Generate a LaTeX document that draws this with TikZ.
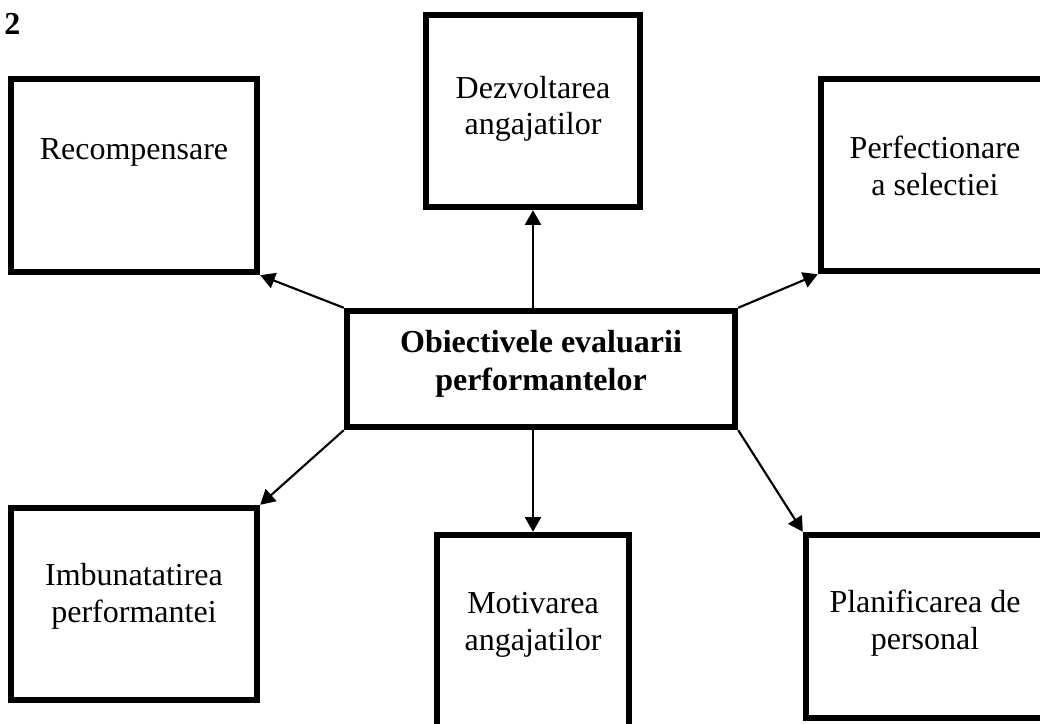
\documentclass[tikz,border=0pt]{standalone}
\usepackage{fontspec}
\setmainfont{Liberation Serif}
\usetikzlibrary{positioning,calc,fit,arrows.meta}
\tikzstyle{box}=[draw, line width=4.8pt, inner sep=0pt]
\tikzstyle{txt}=[align=center, inner sep=0pt, font=\fontsize{24}{27.5}\selectfont]
\tikzstyle{arr}=[line width=1.6pt, -{Triangle[length=11pt,width=12pt]}]

\begin{document}
\begin{tikzpicture}[x=0.75pt, y=-0.75pt]
	\useasboundingbox (0,0) rectangle (1040,724);
	\node[txt, font=\bfseries\fontsize{24}{27.5}\selectfont, anchor=base west] (num) at (4,35) {2};
	\node[box, fit={(347,311) (735,427)}] (obj) {};
	\node[box, fit={(11,79) (257,272)}] (rec) {};
	\node[box, fit={(426,15) (640,207)}] (dez) {};
	\node[box, fit={(821,79) (1049,271)}] (perf) {};
	\node[box, fit={(11,508) (257,700)}] (imb) {};
	\node[box, fit={(437,535) (629,740)}] (mot) {};
	\node[box, fit={(806,535) (1044,718)}] (plan) {};
	\node[txt, font=\bfseries\fontsize{24}{28.5}\selectfont] (objt) at (541,364) {Obiectivele evaluarii\\performantelor};
	\node[txt] (rect) at (134,152) {Recompensare};
	\node[txt] (dezt) at (533,109) {Dezvoltarea\\angajatilor};
	\node[txt] (perft) at (935,166) {Perfectionare\\a selectiei};
	\node[txt] (imbt) at (134,596) {Imbunatatirea\\performantei};
	\node[txt] (mott) at (533,625) {Motivarea\\angajatilor};
	\node[txt] (plant) at (925,623) {Planificarea de\\personal};
	\draw[arr] (obj.north west) -- (rec.south east);
	\draw[arr] (obj.north -| dez.south) -- (dez.south);
	\draw[arr] (obj.north east) -- (perf.south west);
	\draw[arr] (obj.south west) -- (imb.north east);
	\draw[arr] (obj.south -| mot.north) -- (mot.north);
	\draw[arr] (obj.south east) -- (plan.north west);
\end{tikzpicture}
\end{document}
